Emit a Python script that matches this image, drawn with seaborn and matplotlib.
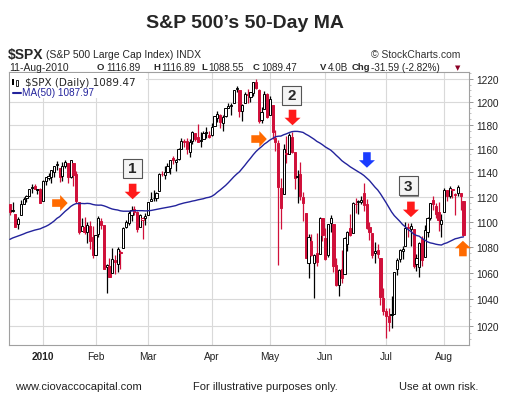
import numpy as np
import pandas as pd
import matplotlib
matplotlib.use("Agg")
import matplotlib.pyplot as plt
from matplotlib.patches import Polygon, Rectangle
from matplotlib.ticker import FixedLocator, FixedFormatter, NullFormatter
import seaborn as sns

W, H = 506, 406

# closes Oct 5 - Dec 14 2009, only used to warm up the 50-day average
warmup_close = [1040.46, 1054.72, 1057.58, 1065.48, 1071.49, 1076.19, 1073.19, 1092.02, 1096.56, 1087.68,
                1097.91, 1091.06, 1081.40, 1092.91, 1079.60, 1066.95, 1063.41, 1042.63, 1066.11, 1036.19,
                1042.88, 1045.41, 1046.50, 1066.63, 1069.30, 1093.08, 1093.01, 1098.51, 1087.24, 1093.48,
                1109.30, 1110.32, 1109.80, 1094.90, 1091.38, 1106.24, 1105.65, 1110.63, 1091.49, 1095.63,
                1108.86, 1109.24, 1099.92, 1105.98, 1103.25, 1091.94, 1095.95, 1102.35, 1106.41, 1114.11]

holidays = ["2009-12-25", "2010-01-01", "2010-01-18", "2010-02-15", "2010-04-02", "2010-05-31", "2010-07-05"]

# daily OHLC, Dec 15 2009 -> Aug 11 2010
opens = [1114.11, 1108.61, 1106.36, 1097.86, 1105.31, 1114.51, 1118.84, 1121.08, 1127.53, 1128.55, 1125.53, 1126.60,
         1116.56, 1132.66, 1135.71, 1136.27, 1140.52, 1145.96, 1143.81, 1137.31, 1145.68, 1147.72, 1136.03, 1147.95,
         1138.68, 1115.49, 1092.40, 1095.80, 1091.94, 1096.93, 1087.61,
         1073.89, 1090.05, 1100.67, 1097.25, 1064.12, 1065.51, 1060.06, 1069.68, 1067.10, 1075.95, 1079.13, 1096.14,
         1099.03, 1105.49, 1110.00, 1107.49, 1095.89, 1101.24, 1103.10,
         1105.36, 1117.01, 1119.36, 1119.12, 1125.12, 1138.40, 1137.56, 1140.22, 1143.96, 1151.71, 1148.53, 1150.83,
         1159.94, 1166.13, 1166.68, 1157.25, 1166.47, 1172.70, 1170.03, 1167.58, 1167.71, 1173.75, 1171.75,
         1171.23, 1178.71, 1186.01, 1188.23, 1181.75, 1187.47, 1194.94, 1195.94, 1198.69, 1210.77, 1210.17, 1192.06,
         1199.04, 1207.16, 1203.79, 1207.87, 1217.07, 1209.92, 1184.59, 1193.30, 1206.77,
         1188.58, 1197.50, 1169.24, 1164.38, 1127.04, 1122.27, 1156.39, 1155.43, 1170.04, 1157.19, 1136.52, 1138.78,
         1119.57, 1107.34, 1067.26, 1084.78, 1067.42, 1075.51, 1074.27, 1102.59,
         1087.30, 1073.89, 1098.82, 1098.43, 1065.84, 1050.81, 1062.75, 1058.77, 1082.65, 1095.00, 1091.21, 1114.02,
         1115.98, 1116.16, 1122.79, 1113.90, 1095.57, 1090.93, 1075.10, 1077.50, 1071.10, 1040.56,
         1031.10, 1027.65, 1028.09, 1028.54, 1062.92, 1070.50, 1077.23, 1080.65, 1095.61, 1094.46, 1093.85, 1066.85,
         1064.53, 1086.67, 1072.14, 1092.17, 1102.89, 1117.36, 1112.84, 1108.07, 1098.44,
         1107.53, 1125.34, 1121.06, 1125.78, 1122.07, 1122.80, 1122.92, 1116.89]
highs = [1114.11, 1116.21, 1106.36, 1103.74, 1117.68, 1120.27, 1121.58, 1126.48, 1130.38, 1130.38, 1126.42, 1127.64,
         1133.87, 1136.63, 1139.19, 1142.46, 1145.39, 1149.74, 1143.81, 1148.40, 1150.41, 1147.77, 1150.45, 1147.95,
         1141.58, 1115.49, 1102.97, 1103.69, 1099.51, 1100.22, 1096.45,
         1089.38, 1104.73, 1102.72, 1097.25, 1067.13, 1071.20, 1079.28, 1073.67, 1080.04, 1077.81, 1095.67, 1101.03,
         1108.24, 1112.42, 1112.29, 1108.58, 1106.42, 1103.50, 1107.24,
         1116.11, 1123.96, 1125.64, 1123.73, 1139.38, 1141.05, 1145.37, 1148.26, 1150.24, 1153.41, 1150.98, 1160.28,
         1169.20, 1167.77, 1169.20, 1167.82, 1174.72, 1173.04, 1180.69, 1173.93, 1174.85, 1177.83, 1174.56,
         1181.43, 1187.73, 1191.80, 1189.60, 1188.55, 1194.66, 1199.20, 1199.04, 1210.65, 1213.92, 1210.17, 1197.87,
         1208.58, 1210.99, 1208.84, 1217.28, 1219.80, 1211.38, 1195.05, 1209.36, 1207.99,
         1205.13, 1197.50, 1175.95, 1167.58, 1135.13, 1163.85, 1170.48, 1172.87, 1173.57, 1157.19, 1141.88, 1148.66,
         1124.27, 1107.34, 1090.16, 1089.95, 1074.75, 1090.75, 1103.52, 1102.59,
         1094.77, 1098.56, 1105.67, 1098.43, 1071.36, 1063.15, 1077.74, 1087.85, 1092.25, 1105.91, 1115.59, 1118.74,
         1117.72, 1121.01, 1131.23, 1118.50, 1099.64, 1090.93, 1083.56, 1082.60, 1071.10, 1048.08,
         1033.58, 1032.95, 1042.50, 1060.89, 1071.25, 1078.16, 1080.78, 1099.46, 1099.08, 1098.66, 1093.85, 1074.70,
         1083.94, 1088.96, 1097.50, 1103.73, 1115.01, 1120.95, 1114.66, 1115.90, 1106.44,
         1127.30, 1125.44, 1128.75, 1126.56, 1123.06, 1129.30, 1123.48, 1116.89]
lows = [1105.35, 1107.96, 1095.88, 1093.88, 1105.31, 1114.51, 1116.00, 1121.08, 1123.51, 1126.08, 1121.94, 1114.81,
        1116.56, 1129.66, 1133.95, 1131.32, 1136.22, 1142.02, 1131.77, 1133.18, 1143.80, 1131.39, 1135.77, 1129.25,
        1114.84, 1090.18, 1092.40, 1089.86, 1083.11, 1078.46, 1071.59,
        1073.89, 1087.96, 1093.97, 1062.78, 1044.50, 1056.51, 1060.06, 1059.34, 1060.59, 1062.97, 1079.13, 1094.72,
        1097.48, 1100.80, 1105.38, 1092.18, 1095.50, 1086.02, 1097.56,
        1105.36, 1116.51, 1116.58, 1116.66, 1125.12, 1136.77, 1134.90, 1140.09, 1138.99, 1146.97, 1141.45, 1150.35,
        1159.94, 1161.16, 1155.33, 1152.88, 1163.83, 1166.01, 1165.09, 1161.48, 1167.71, 1168.92, 1169.15,
        1170.69, 1178.71, 1182.77, 1177.25, 1175.12, 1187.15, 1194.71, 1188.82, 1198.69, 1208.50, 1186.77, 1183.68,
        1199.04, 1198.85, 1199.54, 1205.10, 1211.07, 1181.62, 1181.81, 1193.30, 1186.32,
        1188.58, 1168.12, 1158.15, 1065.79, 1094.15, 1122.27, 1147.71, 1155.43, 1156.14, 1126.14, 1114.96, 1117.20,
        1100.66, 1071.58, 1055.90, 1072.70, 1040.78, 1065.59, 1074.27, 1084.78,
        1069.89, 1072.03, 1091.81, 1060.50, 1049.86, 1042.17, 1052.25, 1058.77, 1077.12, 1089.03, 1091.21, 1107.13,
        1105.87, 1113.93, 1108.24, 1094.18, 1085.31, 1071.60, 1067.89, 1071.45, 1035.18, 1028.33,
        1010.91, 1015.93, 1018.35, 1028.54, 1058.24, 1068.10, 1070.45, 1080.65, 1087.68, 1080.53, 1063.32, 1061.11,
        1056.88, 1065.25, 1072.14, 1087.88, 1101.30, 1109.78, 1103.11, 1092.82, 1088.01,
        1107.53, 1116.76, 1119.46, 1118.81, 1105.67, 1120.91, 1109.78, 1088.55]
closes = [1107.93, 1109.18, 1096.08, 1102.47, 1114.05, 1118.02, 1120.59, 1126.48, 1127.78, 1126.20, 1126.42, 1115.10,
          1132.99, 1136.52, 1137.14, 1141.69, 1144.98, 1146.98, 1136.22, 1145.68, 1148.46, 1136.03, 1150.23, 1138.04,
          1116.48, 1091.76, 1096.78, 1092.17, 1097.50, 1084.53, 1073.87,
          1089.19, 1103.32, 1097.28, 1063.11, 1066.19, 1056.74, 1070.52, 1068.13, 1078.47, 1075.51, 1094.87, 1099.51,
          1106.75, 1109.17, 1108.01, 1094.60, 1105.24, 1102.94, 1104.49,
          1115.71, 1118.31, 1118.79, 1122.97, 1138.70, 1138.50, 1140.45, 1145.61, 1150.24, 1149.99, 1150.51, 1159.46,
          1166.21, 1165.83, 1159.90, 1165.81, 1174.17, 1167.72, 1165.73, 1166.59, 1173.22, 1173.27, 1169.43,
          1178.10, 1187.44, 1189.44, 1182.45, 1186.44, 1194.37, 1196.48, 1197.30, 1210.65, 1211.67, 1192.13, 1197.52,
          1207.17, 1205.94, 1208.67, 1217.28, 1212.05, 1183.71, 1191.36, 1206.78, 1186.69,
          1202.26, 1173.60, 1165.90, 1128.15, 1110.88, 1159.73, 1155.79, 1171.67, 1157.44, 1135.68, 1136.94, 1120.80,
          1115.05, 1071.59, 1087.69, 1073.65, 1074.03, 1067.95, 1103.06, 1089.41,
          1070.71, 1098.38, 1102.83, 1064.88, 1050.47, 1062.00, 1055.69, 1086.84, 1091.60, 1089.63, 1115.23, 1114.61,
          1116.04, 1117.51, 1113.20, 1095.31, 1092.04, 1073.69, 1076.76, 1074.57, 1041.24, 1030.71,
          1027.37, 1022.58, 1028.06, 1060.27, 1070.25, 1077.96, 1078.75, 1095.34, 1095.17, 1096.48, 1064.88, 1071.25,
          1083.48, 1069.59, 1093.67, 1102.66, 1115.01, 1113.84, 1106.13, 1101.53, 1101.60,
          1125.86, 1120.46, 1127.24, 1125.81, 1121.64, 1127.79, 1121.06, 1089.47]

price_ticks = [1020, 1040, 1060, 1080, 1100, 1120, 1140, 1160, 1180, 1200, 1220]
month_labels = ["2010", "Feb", "Mar", "Apr", "May", "Jun", "Jul", "Aug"]

# quote line: (label, value, x of label in px)
quote = [("O", "1116.89", 97), ("H", "1116.89", 153), ("L", "1088.55", 201.5), ("C", "1089.47", 253),
         ("V", "4.0B", 320), ("Chg", "-31.59 (-2.82%)", 351.5)]

# annotations placed at (bar index, price)
arrows = [(18.1, 1115.0, "right", "#ff6a00"),
          (44.4, 1124.4, "down", "#ff1a1a"),
          (90.1, 1168.0, "right", "#ff6a00"),
          (102.2, 1186.4, "down", "#ff1a1a"),
          (129.1, 1150.4, "down", "#1a3cff"),
          (145.0, 1109.9, "down", "#ff1a1a"),
          (163.8, 1078.8, "up", "#ff6a00")]
boxes = [(44.2, 1143.7, "1"), (101.8, 1205.5, "2"), (144.1, 1129.2, "3")]

RED = "#d0103a"
NAVY = "#23239c"

dates = pd.bdate_range("2009-12-15", "2010-08-11")
dates = dates[~dates.isin(pd.to_datetime(holidays))]

df = pd.DataFrame({"open": opens, "high": highs, "low": lows, "close": closes}, index=dates)
df["prev"] = df["close"].shift(1).fillna(warmup_close[-1])
ma = pd.Series(warmup_close + closes).rolling(50).mean()
df["ma50"] = ma.iloc[-len(closes):].values

sns.set_style("white")
plt.rcParams["font.family"] = ["Liberation Sans", "DejaVu Sans"]

fig = plt.figure(figsize=(W / 100, H / 100), dpi=100)
ax = fig.add_axes([9 / W, 1 - 346 / H, 460 / W, 273 / H])

x = np.arange(len(df))
edge = np.where(df["close"] < df["prev"], RED, "black")
face = np.where(df["close"] < df["open"], edge, "white")
body_lo = np.minimum(df["open"], df["close"])
body_h = np.maximum((df["close"] - df["open"]).abs(), 0.5)

ax.vlines(x, df["low"], df["high"], colors=edge, lw=0.9, zorder=2)
ax.bar(x, body_h, bottom=body_lo, width=0.8, color=face, edgecolor=edge, linewidth=0.7, zorder=3)
sns.lineplot(x=x, y=df["ma50"].values, ax=ax, color=NAVY, lw=1.0, zorder=4)

ax.set_yscale("log")
ax.set_xlim(-0.3, 166.0)
ax.set_ylim(1005.9, 1226.2)

# month gridlines
month_starts = [i for i in range(1, len(dates)) if dates[i].month != dates[i - 1].month]
ax.set_xticks(month_starts)
ax.set_xticklabels(month_labels)
ax.get_xticklabels()[0].set_fontweight("bold")
ax.tick_params(axis="x", length=0, pad=4, labelsize=7.3, labelcolor="#222222")

ax.yaxis.tick_right()
ax.yaxis.set_major_locator(FixedLocator(price_ticks))
ax.yaxis.set_major_formatter(FixedFormatter([str(p) for p in price_ticks]))
ax.yaxis.set_minor_locator(FixedLocator(list(range(1010, 1226, 5))))
ax.yaxis.set_minor_formatter(NullFormatter())
ax.tick_params(axis="y", which="major", length=3, width=0.6, color="#888888", pad=2,
               labelsize=7.3, labelcolor="#222222")
ax.tick_params(axis="y", which="minor", length=1.5, width=0.5, color="#aaaaaa")

ax.grid(True, which="major", color="#d9d9d9", lw=0.8, zorder=0)
ax.set_axisbelow(True)
for s in ax.spines.values():
    s.set_color("#a0a0a0")
    s.set_linewidth(0.8)
ax.set_xlabel("")
ax.set_ylabel("")


def fig_xy(px, py):
    return px / W, 1 - py / H


def anchor(xi, price):
    d = ax.transData.transform((xi, price))
    return fig.transFigure.inverted().transform(d)


def block_arrow(xi, price, direction, color, L=15.5, hl=7.5, tw=3.8, hw=8.0):
    cx, cy = anchor(xi, price)
    base = L / 2 - (L - hl)
    pts = [(-tw, L / 2), (tw, L / 2), (tw, base), (hw, base), (0, -L / 2), (-hw, base), (-tw, base)]
    if direction == "up":
        pts = [(a, -b) for a, b in pts]
    elif direction == "right":
        pts = [(-b, a) for a, b in pts]
    verts = [(cx + a / W, cy + b / H) for a, b in pts]
    fig.add_artist(Polygon(verts, closed=True, fc=color, ec="none", transform=fig.transFigure, zorder=5))


for xi, price, direction, color in arrows:
    block_arrow(xi, price, direction, color)

for xi, price, label in boxes:
    cx, cy = anchor(xi, price)
    bw, bh = 19 / W, 19 / H
    fig.add_artist(Rectangle((cx - bw / 2 + 1.5 / W, cy - bh / 2 - 1.5 / H), bw, bh, fc="#8a8a8a", ec="none",
                             transform=fig.transFigure, zorder=5))
    fig.add_artist(Rectangle((cx - bw / 2, cy - bh / 2), bw, bh, fc="#f4f4f4", ec="#555555", lw=0.8,
                             transform=fig.transFigure, zorder=6))
    fig.text(cx, cy, label, ha="center", va="center", fontsize=11, fontweight="bold", zorder=7)

# legend box in the upper left of the plot
fig.add_artist(Rectangle(fig_xy(9.6, 99), 136 / W, 25.5 / H, fc="white", ec="none",
                         transform=fig.transFigure, zorder=5))
fig.add_artist(Rectangle(fig_xy(12, 86), 2 / W, 6 / H, fc="black", ec="none", transform=fig.transFigure, zorder=6))
fig.add_artist(Rectangle(fig_xy(16, 87), 2 / W, 6 / H, fc="white", ec="black", lw=0.6,
                         transform=fig.transFigure, zorder=6))
fig.text(*fig_xy(25, 82.7), "$SPX (Daily) 1089.47", family="DejaVu Sans", fontsize=7.5, va="center", zorder=7)
fig.add_artist(plt.Line2D([13 / W, 21 / W], [1 - 93.5 / H] * 2, color=NAVY, lw=1.5, transform=fig.transFigure,
                          zorder=6))
fig.text(*fig_xy(22, 93.5), "MA(50) 1087.97", fontsize=7.2, color=NAVY, va="center", zorder=7)

# header
fig.text(*fig_xy(245, 24), "S\u0026P 500\u2019s 50-Day MA", fontsize=14, fontweight="bold", ha="center", va="center")
fig.text(*fig_xy(8, 55), "$SPX", fontsize=10, fontweight="bold", va="center")
fig.text(*fig_xy(46, 55), "(S&P 500 Large Cap Index) INDX", fontsize=7.5, va="center")
fig.text(*fig_xy(460, 55), "\u00a9 StockCharts.com", fontsize=7.5, va="center", ha="right", color="#333333")
fig.text(*fig_xy(9, 68), "11-Aug-2010", fontsize=7.5, va="center")

renderer = fig.canvas.get_renderer()
for label, value, px in quote:
    t = fig.text(*fig_xy(px, 68), label, fontsize=6.8, fontweight="bold", va="center")
    x1 = t.get_window_extent(renderer).x1
    fig.text(x1 / fig.bbox.width + 1.5 / W, 1 - 68 / H, value, fontsize=7.1, va="center")
fig.text(*fig_xy(458, 68.5), "\u25bc", family="DejaVu Sans", fontsize=5, color="#8b0025", ha="center", va="center")

# footer
fig.text(*fig_xy(15, 387), "www.ciovaccocapital.com", fontsize=8, va="center", color="#222222")
fig.text(*fig_xy(193, 387), "For illustrative purposes only.", fontsize=8, va="center", color="#222222")
fig.text(*fig_xy(399, 387), "Use at own risk.", fontsize=8, va="center", color="#222222")

fig.savefig("out.png", dpi=100)
